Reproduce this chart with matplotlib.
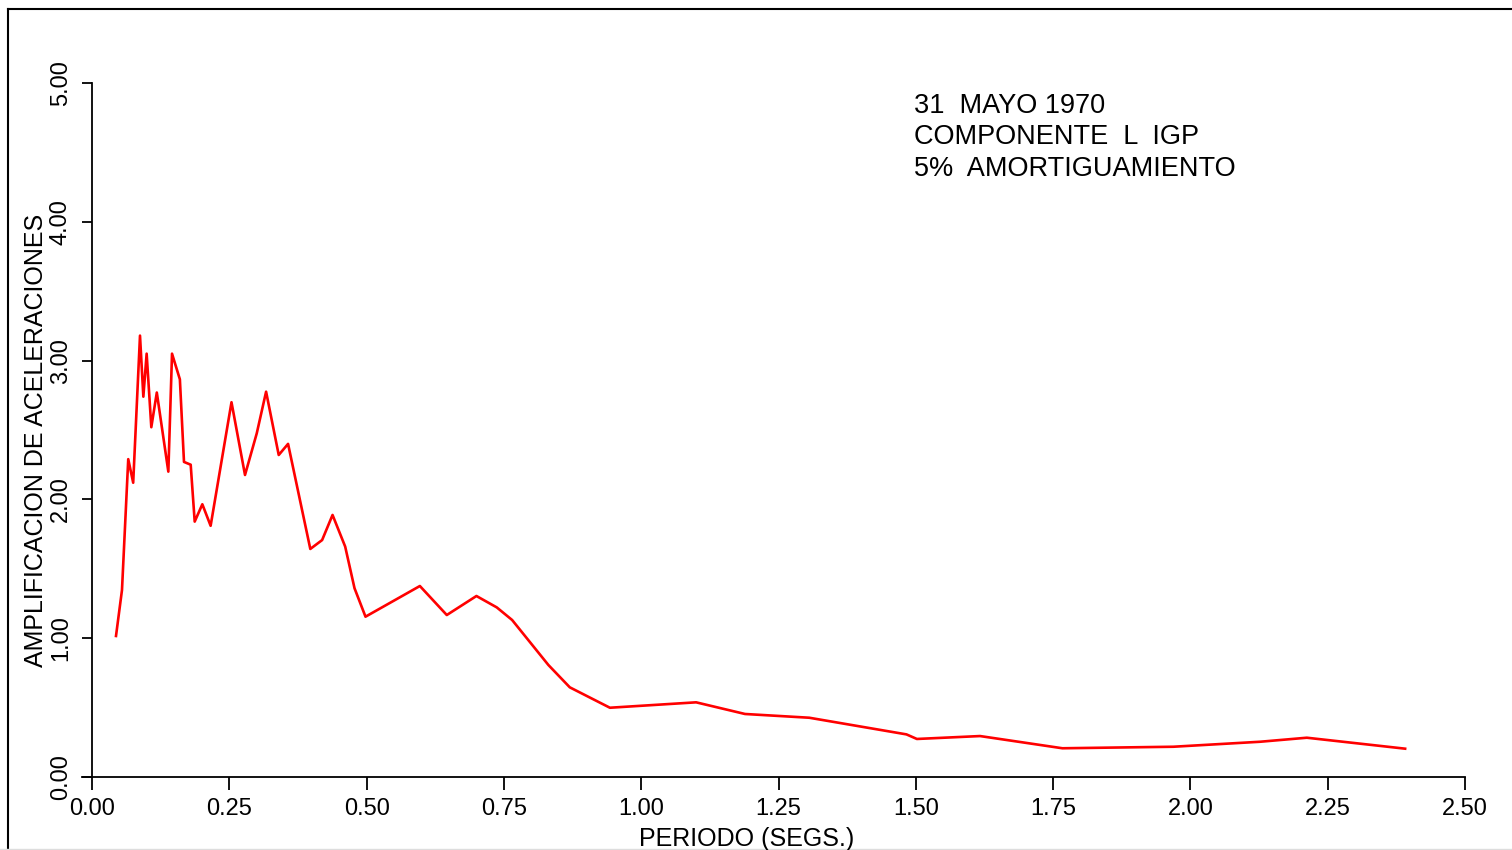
import matplotlib
matplotlib.use("Agg")
import matplotlib.pyplot as plt
from matplotlib.lines import Line2D

plt.rcParams['font.family'] = ['Liberation Sans', 'DejaVu Sans']

periodo = [0.0437, 0.0546, 0.066, 0.075, 0.0874, 0.0935, 0.0995, 0.108, 0.118,
           0.139, 0.1457, 0.160, 0.1675, 0.1797, 0.187, 0.2009, 0.216, 0.254,
           0.2786, 0.300, 0.317, 0.340, 0.357, 0.3975, 0.419, 0.438, 0.461,
           0.478, 0.498, 0.597, 0.646, 0.700, 0.737, 0.765, 0.831, 0.870,
           0.943, 1.100, 1.189, 1.306, 1.483, 1.502, 1.617, 1.767, 1.969,
           2.127, 2.212, 2.391]
amplificacion = [1.016, 1.347, 2.29, 2.12, 3.18, 2.74, 3.05, 2.52, 2.77,
                 2.20, 3.05, 2.865, 2.27, 2.25, 1.84, 1.965, 1.81, 2.70,
                 2.176, 2.476, 2.776, 2.32, 2.40, 1.643, 1.707, 1.888, 1.66,
                 1.36, 1.155, 1.376, 1.167, 1.304, 1.222, 1.131, 0.807, 0.646,
                 0.499, 0.538, 0.454, 0.427, 0.307, 0.274, 0.295, 0.207, 0.218,
                 0.254, 0.283, 0.204]

xticks = [0.0, 0.25, 0.5, 0.75, 1.0, 1.25, 1.5, 1.75, 2.0, 2.25, 2.5]
yticks = [0.0, 1.0, 2.0, 3.0, 4.0, 5.0]
info_lines = ["31  MAYO 1970", "COMPONENTE  L  IGP", "5%  AMORTIGUAMIENTO"]

W, H = 1512, 850
fig = plt.figure(figsize=(W / 100, H / 100), dpi=100)
ax = fig.add_axes([92 / W, 1 - 777 / H, (1465 - 92) / W, (777 - 83) / H])

ax.plot(periodo, amplificacion, color='#ff0000', lw=1.9)

ax.set_xlim(0, 2.5)
ax.set_ylim(0, 5)
ax.set_xticks(xticks)
ax.set_xticklabels([f"{v:.2f}" for v in xticks])
ax.set_yticks(yticks)
ax.set_yticklabels([f"{v:.2f}" for v in yticks], rotation=90, va='center')

for s in ['top', 'right']:
    ax.spines[s].set_visible(False)
for s in ['left', 'bottom']:
    ax.spines[s].set_linewidth(1.3)
    ax.spines[s].set_color('black')
ax.spines['bottom'].set_bounds(-10 / 549.2, 2.5)

ax.tick_params(axis='x', direction='out', length=9, width=1.3, pad=6,
               labelsize=17)
ax.tick_params(axis='y', direction='out', length=7.5, width=1.3, pad=7,
               labelsize=17)

for i, t in enumerate(info_lines):
    fig.text(914 / W, 1 - (106 + 31.5 * i) / H, t, fontsize=19.5,
             ha='left', va='center')

fig.text(36 / W, 1 - 440 / H, "AMPLIFICACION DE ACELERACIONES", fontsize=18,
         rotation=90, ha='center', va='center')
fig.text(747 / W, 1 - 839 / H, "PERIODO (SEGS.)", fontsize=18,
         ha='center', va='center')

# outer frame
fig.add_artist(Line2D([8 / W, 8 / W], [1 - 9 / H, 0], transform=fig.transFigure,
                      color='black', lw=1.5))
fig.add_artist(Line2D([8 / W, 1], [1 - 9 / H, 1 - 9 / H], transform=fig.transFigure,
                      color='black', lw=1.5))
fig.add_artist(Line2D([0, 1], [1 - 849 / H, 1 - 849 / H], transform=fig.transFigure,
                      color='#dddddd', lw=1.0))

fig.savefig("out.png", dpi=100, facecolor='white')
